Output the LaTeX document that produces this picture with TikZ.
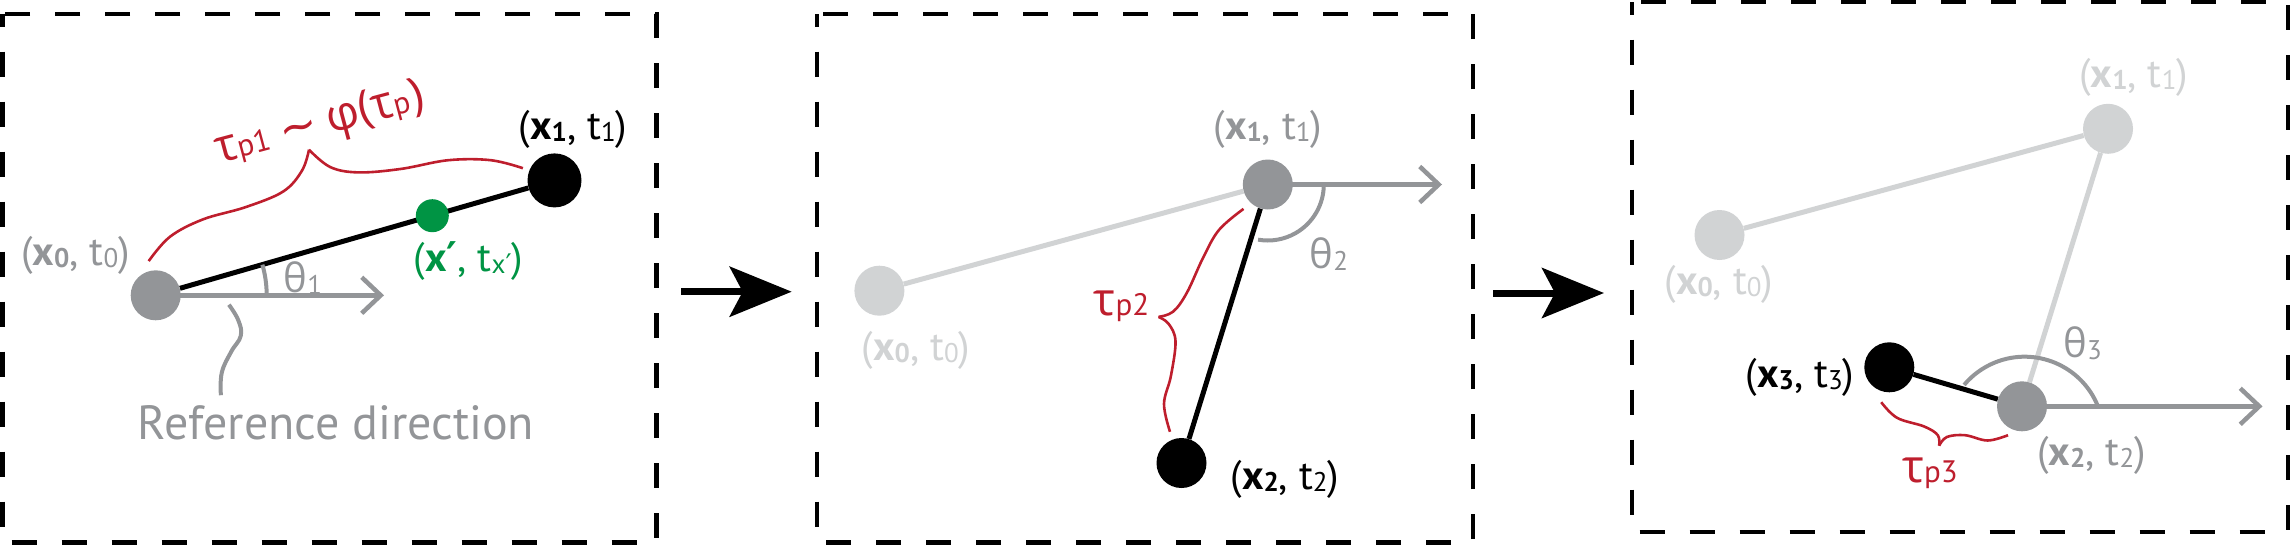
\documentclass[tikz,border=0pt]{standalone}
\usepackage{fontspec}
\setmainfont{PT Sans}
\newfontfamily\gk{Open Sans}
\newfontfamily\dv{DejaVu Sans}
\usetikzlibrary{arrows.meta}
\definecolor{mgrey}{HTML}{939598}
\definecolor{lgrey}{HTML}{D1D3D4}
\definecolor{myred}{HTML}{BE1E2D}
\definecolor{mygreen}{HTML}{009444}
\pgfdeclarelayer{bg}
\pgfsetlayers{bg,main}
\newcommand\lowfig[1]{\raisebox{-2pt}{\fontsize{27pt}{27pt}\selectfont #1}}
\newcommand\xt[2]{(\textbf{x\lowfig{#1}}, t\lowfig{#2})}
\newcommand\gtau{{\gk\fontsize{46pt}{46pt}\selectfont τ}}
\newcommand\tp[1]{\gtau{\fontsize{31pt}{31pt}\selectfont p#1}}
\newcommand\thet[1]{{\gk\fontsize{40pt}{40pt}\selectfont θ}\lowfig{#1}}
\begin{document}
\begin{tikzpicture}[x=1pt,y=-1pt,
  dot/.style={circle,inner sep=0pt,minimum size=50pt},
  lbl/.style={inner sep=0pt,font=\fontsize{41pt}{43pt}\selectfont},
  panel/.style={draw=black,line width=4.5pt,dash pattern=on 25pt off 25pt,dash phase=12.5pt},
  blackline/.style={draw=black,line width=5pt},
  lightline/.style={draw=lgrey,line width=5pt},
  refarrow/.style={draw=mgrey,line width=4.5pt,-{Straight Barb[length=19pt,width=36pt]}},
  anglearc/.style={draw=mgrey,line width=4pt},
  brace/.style={draw=myred,line width=2.6pt},
  bigarrow/.style={draw=black,line width=7pt,-{Stealth[length=62pt,width=50pt,inset=13pt]}}]
\useasboundingbox (0,0) rectangle (2290,546);

% panels
\draw[panel] (2.3,14) rectangle (656.7,542.3);
\draw[panel] (817,14) rectangle (1473,542.3);
\draw[panel] (1632,2) rectangle (2287.8,531.8);

% ---------- panel 1 ----------
\node[dot,fill=mgrey] (a0) at (155.7,295.3) {};
\node[dot,fill=black,minimum size=54pt] (a1) at (554.5,180.4) {};
\node[dot,fill=mygreen,minimum size=33pt] (ap) at (432.3,215.7) {};
\coordinate (aref) at (384,295.3);
\begin{pgfonlayer}{bg}
\draw[blackline] (a0) -- (a1);
\draw[refarrow] (a0.center) -- (aref);
\end{pgfonlayer}
\draw[anglearc] (a0.center) ++(0:111) arc[start angle=0,end angle=-16,radius=111];
\node[lbl,text=mgrey] (a0l) at (75.5,255) {\xt{0}{0}};
\node[lbl,text=black] (a1l) at (573,129) {\xt{1}{1}};
\node[lbl,text=mygreen] (apl) at (468.5,261.5) {(\textbf{x{\dv\bfseries ′}}, t\lowfig{x{\dv ′}})};
\node[lbl,text=mgrey] (th1) at (303,278) {\thet{1}};
\node[inner sep=0pt,anchor=base,text=mgrey,font=\fontsize{48pt}{50pt}\selectfont] (refl) at (336,439.4) {Reference direction};
\node[inner sep=0pt,text=myred,rotate=15,font=\fontsize{40pt}{46pt}\selectfont] (tau1) at (320,125) {\tp{1} {\dv\fontsize{46pt}{46pt}\selectfont ∼} {\gk\fontsize{46pt}{46pt}\selectfont φ(}\gtau{\fontsize{31pt}{31pt}\selectfont p}{\gk\fontsize{46pt}{46pt}\selectfont )}};
\draw[brace] plot[smooth,tension=0.6] coordinates {(148.7,261.1) (169.9,236.8) (202.9,219.4) (245.4,207.2) (283.2,191.5) (302,170.6) (309,149.7)};
\draw[brace] plot[smooth,tension=0.6] coordinates {(309,149.7) (330.3,167.1) (358.7,172.4) (401.1,168.9) (448.3,160.2) (490.8,160.2) (522.9,168.2)};
\draw[draw=mgrey,line width=4pt] plot[smooth,tension=0.7] coordinates {(228.9,304.7) (238.3,320.3) (240.7,336) (231.2,351.7) (221.8,372.6) (220.9,395.2)};

% arrow 1
\coordinate (ar1s) at (681,291.7);
\coordinate (ar1e) at (791.7,291.7);
\draw[bigarrow] (ar1s) -- (ar1e);

% ---------- panel 2 ----------
\node[dot,fill=lgrey] (b0) at (879.4,290.7) {};
\node[dot,fill=mgrey] (b1) at (1267.8,184.5) {};
\node[dot,fill=black] (b2) at (1181.5,463) {};
\coordinate (bref) at (1442,184.5);
\begin{pgfonlayer}{bg}
\draw[lightline] (b0) -- (b1);
\draw[blackline] (b1) -- (b2);
\draw[refarrow] (b1.center) -- (bref);
\end{pgfonlayer}
\draw[anglearc] (b1.center) ++(0:56) arc[start angle=0,end angle=100,radius=56];
\node[lbl,text=mgrey] (b1l) at (1267.8,129) {\xt{1}{1}};
\node[lbl,text=lgrey] (b0l) at (916,350.5) {\xt{0}{0}};
\node[lbl,text=black] (b2l) at (1284.8,479.6) {\xt{2}{2}};
\node[lbl,text=mgrey] (th2) at (1329,254) {\thet{2}};
\node[inner sep=0pt,text=myred] (tau2) at (1121.6,306) {\tp{2}};
\draw[brace] plot[smooth,tension=0.6] coordinates {(1243.5,208.9) (1219.1,229.8) (1203.1,257.7) (1187,292.5) (1173.2,311.6) (1158.5,316.9)};
\draw[brace] plot[smooth,tension=0.6] coordinates {(1158.5,316.9) (1168.6,323.8) (1175.5,341.2) (1170.9,376) (1164,403.9) (1170,431.8)};

% arrow 2
\coordinate (ar2s) at (1493,293);
\coordinate (ar2e) at (1604,293);
\draw[bigarrow] (ar2s) -- (ar2e);

% ---------- panel 3 ----------
\node[dot,fill=lgrey] (c0) at (1719.5,235) {};
\node[dot,fill=lgrey] (c1) at (2108,128.8) {};
\node[dot,fill=mgrey] (c2) at (2022,406.3) {};
\node[dot,fill=black] (c3) at (1889.3,367.3) {};
\coordinate (cref) at (2262.5,406.3);
\begin{pgfonlayer}{bg}
\draw[lightline] (c0) -- (c1);
\draw[lightline] (c1) -- (c2);
\draw[blackline] (c2) -- (c3);
\draw[refarrow] (c2.center) -- (cref);
\end{pgfonlayer}
\draw[anglearc] (c2.center) ++(2.6,29.4) ++(-22:79) arc[start angle=-22,end angle=-140,radius=79];
\node[lbl,text=lgrey] (c1l) at (2133.7,77.5) {\xt{1}{1}};
\node[lbl,text=lgrey] (c0l) at (1718.8,284.7) {\xt{0}{0}};
\node[lbl,text=black] (c3l) at (1800,377) {\xt{3}{3}};
\node[lbl,text=mgrey] (c2l) at (2091.4,455) {\xt{2}{2}};
\node[lbl,text=mgrey] (th3) at (2082.7,343) {\thet{3}};
\node[inner sep=0pt,text=myred] (tau3) at (1930,473) {\tp{3}};
\draw[brace] plot[smooth,tension=0.6] coordinates {(1881.2,402.2) (1897,417.8) (1924.2,426.5) (1937.8,435.2) (1939.1,445.7)};
\draw[brace] plot[smooth,tension=0.6] coordinates {(1939.1,445.7) (1946.8,437) (1965,435.2) (1987.6,440.5) (2008,435.2)};
\end{tikzpicture}
\end{document}
